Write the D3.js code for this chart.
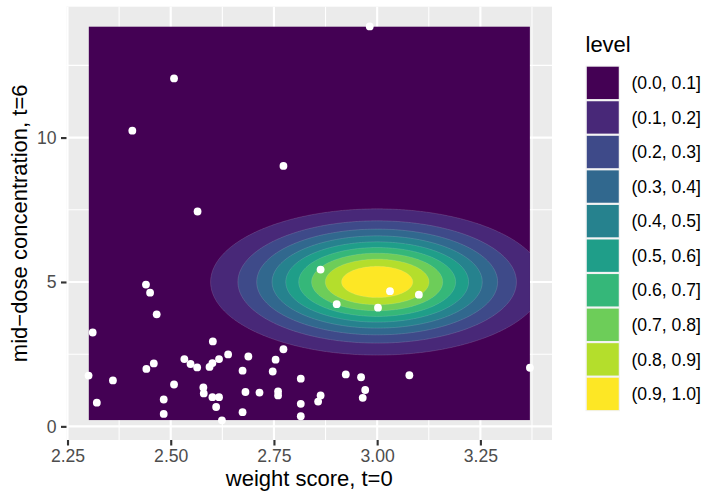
<!DOCTYPE html>
<html><head><meta charset="utf-8">
<script src="https://cdn.jsdelivr.net/npm/d3@7"></script>
<style>
body{margin:0;background:#fff}
svg{display:block;font-family:"Liberation Sans",Arial,Helvetica,sans-serif}
</style>
</head><body>
<svg id="chart" width="711" height="492"></svg>
<script>
// ---- data ----
const pointX = [2.982,2.508,2.407,2.773,2.565,2.863,2.902,3.031,3.101,3.002,
  2.440,2.450,2.466,2.311,2.602,2.639,2.688,2.773,2.754,2.533,
  2.548,2.564,2.594,2.601,2.617,2.459,2.441,2.301,2.360,2.508,
  2.674,2.747,2.815,2.924,2.961,3.078,3.370,2.579,2.580,2.601,
  2.617,2.610,2.624,2.681,2.715,2.760,2.760,2.674,2.483,2.483,
  2.321,2.815,2.815,2.857,2.863,2.971,2.965];
const pointY = [13.85,12.05,10.24,9.02,7.44,5.43,4.23,4.68,4.56,4.11,
  4.91,4.63,3.88,3.25,2.94,2.49,2.42,2.67,2.31,2.33,
  2.16,2.04,2.06,2.19,2.33,2.18,1.99,1.76,1.59,1.45,
  1.93,1.90,1.65,1.80,1.70,1.77,2.03,1.35,1.14,1.01,
  1.01,0.67,0.21,1.19,1.17,1.21,1.07,0.49,0.93,0.43,
  0.82,0.78,0.35,0.86,1.07,1.26,0.99];
const levelBreaks = [0.1,0.2,0.3,0.4,0.5,0.6,0.7,0.8,0.9];
const levelLabels = ["(0.0, 0.1]","(0.1, 0.2]","(0.2, 0.3]","(0.3, 0.4]","(0.4, 0.5]",
  "(0.5, 0.6]","(0.6, 0.7]","(0.7, 0.8]","(0.8, 0.9]","(0.9, 1.0]"];
const xTickValues = [2.25,2.5,2.75,3.0,3.25];
const xTickLabels = ["2.25","2.50","2.75","3.00","3.25"];
const yTickValues = [0,5,10];
const yTickLabels = ["0","5","10"];
const densityCenter = [3.0, 5.0];
const densitySd = [0.188, 1.18];
const palette = ["#440154","#482878","#3E4A89","#31688E","#26828E","#1F9E89","#35B779","#6DCD59","#B4DE2C","#FDE725"];

// ---- layout ----
const P = {left:66.5, right:552, top:6.7, bottom:440};
const svg = d3.select("#chart");

const xExt = d3.extent(pointX), yExt = d3.extent(pointY);
const xPad = (xExt[1]-xExt[0])*0.05, yPad = (yExt[1]-yExt[0])*0.05;
const x = d3.scaleLinear().domain([xExt[0]-xPad, xExt[1]+xPad]).range([P.left, P.right]);
const y = d3.scaleLinear().domain([yExt[0]-yPad, yExt[1]+yPad]).range([P.bottom, P.top]);

// panel
svg.append("rect").attr("x",P.left).attr("y",P.top).attr("width",P.right-P.left).attr("height",P.bottom-P.top).attr("fill","#EBEBEB");
const xMinor = [2.375,2.625,2.875,3.125,3.375].filter(v=>v>x.domain()[0]&&v<x.domain()[1]);
const yMinor = [2.5,7.5,12.5].filter(v=>v>y.domain()[0]&&v<y.domain()[1]);
const grid = svg.append("g");
xMinor.forEach(v=>grid.append("line").attr("x1",x(v)).attr("x2",x(v)).attr("y1",P.top).attr("y2",P.bottom).attr("stroke","#fff").attr("stroke-width",1.07));
yMinor.forEach(v=>grid.append("line").attr("y1",y(v)).attr("y2",y(v)).attr("x1",P.left).attr("x2",P.right).attr("stroke","#fff").attr("stroke-width",1.07));
xTickValues.forEach(v=>grid.append("line").attr("x1",x(v)).attr("x2",x(v)).attr("y1",P.top).attr("y2",P.bottom).attr("stroke","#fff").attr("stroke-width",2.13));
yTickValues.forEach(v=>grid.append("line").attr("y1",y(v)).attr("y2",y(v)).attr("x1",P.left).attr("x2",P.right).attr("stroke","#fff").attr("stroke-width",2.13));

// density surface on grid spanning data extent
const nx = 300, ny = 300;
const sx = (xExt[1]-xExt[0])/(nx-1), sy = (yExt[1]-yExt[0])/(ny-1);
const values = new Array(nx*ny);
for (let j=0;j<ny;j++){
  const yy = yExt[0]+j*sy;
  for (let i=0;i<nx;i++){
    const xx = xExt[0]+i*sx;
    const a = (xx-densityCenter[0])/densitySd[0], b = (yy-densityCenter[1])/densitySd[1];
    values[j*nx+i] = Math.exp(-0.5*(a*a+b*b));
  }
}
const contours = d3.contours().size([nx,ny]).thresholds(levelBreaks)(values);
const proj = d3.geoTransform({point:function(px,py){
  this.stream.point(x(xExt[0]+(px-0.5)*sx), y(yExt[0]+(py-0.5)*sy));
}});
const path = d3.geoPath(proj);
const defs = svg.append("defs");
defs.append("clipPath").attr("id","dclip").append("rect")
  .attr("x",x(xExt[0])).attr("y",y(yExt[1])).attr("width",x(xExt[1])-x(xExt[0])).attr("height",y(yExt[0])-y(yExt[1]));
const dens = svg.append("g").attr("clip-path","url(#dclip)");
dens.append("rect").attr("x",x(xExt[0])).attr("y",y(yExt[1])).attr("width",x(xExt[1])-x(xExt[0])).attr("height",y(yExt[0])-y(yExt[1])).attr("fill",palette[0]);
dens.selectAll("path.band").data(contours).join("path").attr("class","band")
  .attr("d",path).attr("fill",(d,i)=>palette[i+1])
  .attr("stroke","rgba(235,235,235,0.3)").attr("stroke-width",0.5);

// points
svg.append("g").selectAll("circle").data(pointX).join("circle")
  .attr("cx",(d,i)=>x(pointX[i])).attr("cy",(d,i)=>y(pointY[i])).attr("r",3.9).attr("fill","#fff");

// axes
const xAxis = svg.append("g").attr("transform",`translate(0,${P.bottom})`)
  .call(d3.axisBottom(x).tickValues(xTickValues).tickFormat((d,i)=>xTickLabels[i]).tickSize(5.5).tickPadding(4));
const yAxis = svg.append("g").attr("transform",`translate(${P.left},0)`)
  .call(d3.axisLeft(y).tickValues(yTickValues).tickFormat((d,i)=>yTickLabels[i]).tickSize(5.5).tickPadding(4.4));
[xAxis,yAxis].forEach(g=>{
  g.select(".domain").remove();
  g.selectAll(".tick line").attr("stroke","#333333").attr("stroke-width",2.13);
  g.selectAll(".tick text").attr("fill","#4D4D4D").style("font-size","17.6px").style("font-family","'Liberation Sans',Arial,sans-serif");
});

// axis titles
svg.append("text").attr("x",(P.left+P.right)/2).attr("y",485.5).attr("text-anchor","middle")
  .style("font-size","22px").attr("fill","#000").text("weight score, t=0");
svg.append("text").attr("transform",`translate(27,${(P.top+P.bottom)/2}) rotate(-90)`).attr("text-anchor","middle")
  .style("font-size","22px").attr("fill","#000").text("mid\u2212dose concentration, t=6");

// legend
const L = {x:585.5, y:65.6, k:34.56};
svg.append("text").attr("x",L.x).attr("y",51.7).style("font-size","22px").attr("fill","#000").text("level");
const lg = svg.append("g");
levelLabels.forEach((lab,i)=>{
  const ty = L.y + i*L.k;
  lg.append("rect").attr("x",L.x).attr("y",ty).attr("width",L.k).attr("height",L.k).attr("fill","#F2F2F2");
  lg.append("rect").attr("x",L.x+1.3).attr("y",ty+1.1).attr("width",L.k-2.6).attr("height",L.k-2.2).attr("fill",palette[i]);
  lg.append("text").attr("x",631.5).attr("y",ty+L.k/2).attr("dy","0.35em").style("font-size","17.6px").attr("fill","#000").text(lab);
});
</script>
</body></html>
